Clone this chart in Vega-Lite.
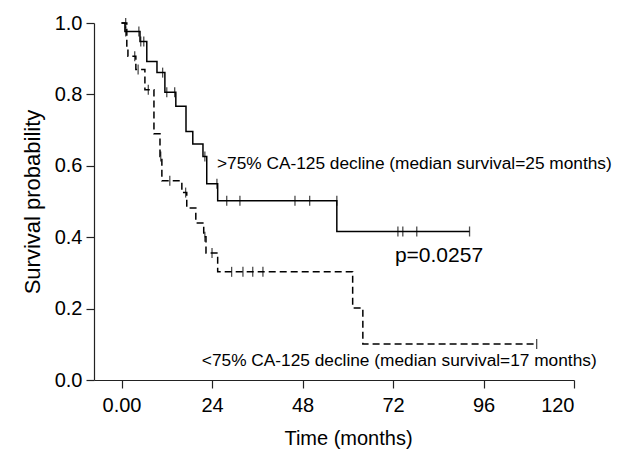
{
  "$schema": "https://vega.github.io/schema/vega-lite/v6.json",
  "width": 480,
  "height": 357,
  "autosize": {"type": "none"},
  "padding": {"left": 94, "top": 23, "right": 48, "bottom": 78},
  "background": "white",
  "config": {
    "view": {"stroke": null},
    "font": "Liberation Sans",
    "axis": {
      "grid": false,
      "domainColor": "#222222",
      "domainWidth": 1.2,
      "tickColor": "#222222",
      "tickWidth": 1.2,
      "tickSize": 8,
      "labelFont": "Liberation Sans",
      "labelFontSize": 20,
      "labelColor": "black",
      "titleFont": "Liberation Sans",
      "titleFontSize": 20,
      "titleFontWeight": "normal",
      "titleColor": "black"
    }
  },
  "datasets": {
    "curves": [
      {"group": ">75%", "t": 0, "s": 1.0},
      {"group": ">75%", "t": 0.9, "s": 0.976},
      {"group": ">75%", "t": 4.9, "s": 0.948},
      {"group": ">75%", "t": 6.7, "s": 0.892},
      {"group": ">75%", "t": 9.4, "s": 0.861},
      {"group": ">75%", "t": 11.5, "s": 0.806},
      {"group": ">75%", "t": 14.4, "s": 0.767},
      {"group": ">75%", "t": 17.1, "s": 0.696},
      {"group": ">75%", "t": 18.9, "s": 0.661},
      {"group": ">75%", "t": 21.6, "s": 0.626},
      {"group": ">75%", "t": 22.6, "s": 0.55},
      {"group": ">75%", "t": 25.5, "s": 0.502},
      {"group": ">75%", "t": 57.1, "s": 0.416},
      {"group": ">75%", "t": 92.3, "s": 0.416},
      {"group": "<75%", "t": 0, "s": 1.0},
      {"group": "<75%", "t": 1.4, "s": 0.93},
      {"group": "<75%", "t": 1.7, "s": 0.907},
      {"group": "<75%", "t": 3.8, "s": 0.87},
      {"group": "<75%", "t": 6.2, "s": 0.813},
      {"group": "<75%", "t": 8.6, "s": 0.69},
      {"group": "<75%", "t": 10.2, "s": 0.626},
      {"group": "<75%", "t": 10.7, "s": 0.558},
      {"group": "<75%", "t": 16.0, "s": 0.525},
      {"group": "<75%", "t": 17.3, "s": 0.482},
      {"group": "<75%", "t": 19.7, "s": 0.44},
      {"group": "<75%", "t": 21.8, "s": 0.401},
      {"group": "<75%", "t": 22.4, "s": 0.356},
      {"group": "<75%", "t": 25.5, "s": 0.303},
      {"group": "<75%", "t": 61.3, "s": 0.202},
      {"group": "<75%", "t": 64.0, "s": 0.101},
      {"group": "<75%", "t": 110.1, "s": 0.101}
    ],
    "censored": [
      {"group": ">75%", "t": 1.1, "s": 0.976},
      {"group": ">75%", "t": 4.6, "s": 0.976},
      {"group": ">75%", "t": 5.1, "s": 0.948},
      {"group": ">75%", "t": 5.9, "s": 0.948},
      {"group": ">75%", "t": 10.9, "s": 0.861},
      {"group": ">75%", "t": 12.0, "s": 0.806},
      {"group": ">75%", "t": 14.1, "s": 0.806},
      {"group": ">75%", "t": 22.1, "s": 0.626},
      {"group": ">75%", "t": 25.3, "s": 0.55},
      {"group": ">75%", "t": 27.9, "s": 0.502},
      {"group": ">75%", "t": 31.4, "s": 0.502},
      {"group": ">75%", "t": 46.0, "s": 0.502},
      {"group": ">75%", "t": 49.9, "s": 0.502},
      {"group": ">75%", "t": 57.1, "s": 0.502},
      {"group": ">75%", "t": 73.3, "s": 0.416},
      {"group": ">75%", "t": 74.6, "s": 0.416},
      {"group": ">75%", "t": 78.3, "s": 0.416},
      {"group": ">75%", "t": 92.3, "s": 0.416},
      {"group": "<75%", "t": 1.1, "s": 1.0},
      {"group": "<75%", "t": 3.5, "s": 0.907},
      {"group": "<75%", "t": 4.4, "s": 0.87},
      {"group": "<75%", "t": 7.1, "s": 0.813},
      {"group": "<75%", "t": 10.4, "s": 0.626},
      {"group": "<75%", "t": 12.8, "s": 0.558},
      {"group": "<75%", "t": 17.0, "s": 0.525},
      {"group": "<75%", "t": 22.1, "s": 0.401},
      {"group": "<75%", "t": 24.0, "s": 0.356},
      {"group": "<75%", "t": 29.2, "s": 0.303},
      {"group": "<75%", "t": 32.2, "s": 0.303},
      {"group": "<75%", "t": 34.8, "s": 0.303},
      {"group": "<75%", "t": 37.5, "s": 0.303},
      {"group": "<75%", "t": 110.1, "s": 0.101}
    ],
    "labels": [
      {"t": 25.3, "s": 0.605, "label": ">75% CA-125 decline (median survival=25 months)"},
      {"t": 21.3, "s": 0.054, "label": "<75% CA-125 decline (median survival=17 months)"}
    ],
    "pvalue": [
      {"t": 72.5, "s": 0.348, "label": "p=0.0257"}
    ]
  },
  "encoding": {
    "x": {
      "field": "t", "type": "quantitative",
      "scale": {"domain": [-7.3, 120], "nice": false, "zero": false},
      "axis": {
        "values": [0, 24, 48, 72, 96, 120],
        "labelExpr": "datum.value == 0 ? '0.00' : datum.label",
        "labelPadding": 7,
        "titlePadding": 13,
        "titleX": 254,
        "titleAlign": "center",
        "title": "Time (months)"
      }
    },
    "y": {
      "field": "s", "type": "quantitative",
      "scale": {"domain": [0, 1], "nice": false},
      "axis": {
        "values": [0, 0.2, 0.4, 0.6, 0.8, 1.0],
        "format": ".1f",
        "labelPadding": 4,
        "titlePadding": 10,
        "titleFontSize": 22,
        "title": "Survival probability"
      }
    }
  },
  "layer": [
    {
      "data": {"name": "curves"},
      "mark": {"type": "line", "interpolate": "step-after", "strokeWidth": 1.5, "color": "black"},
      "encoding": {
        "detail": {"field": "group"},
        "strokeDash": {
          "field": "group", "type": "nominal",
          "scale": {"domain": [">75%", "<75%"], "range": [[1, 0], [7, 4]]},
          "legend": null
        }
      }
    },
    {
      "data": {"name": "censored"},
      "mark": {"type": "tick", "orient": "vertical", "size": 10, "thickness": 1.3, "color": "black"}
    },
    {
      "data": {"name": "labels"},
      "mark": {"type": "text", "align": "left", "baseline": "middle", "fontSize": 17.3, "font": "Liberation Sans", "color": "black"},
      "encoding": {"text": {"field": "label"}}
    },
    {
      "data": {"name": "pvalue"},
      "mark": {"type": "text", "align": "left", "baseline": "middle", "fontSize": 21, "font": "Liberation Sans", "color": "black"},
      "encoding": {"text": {"field": "label"}}
    }
  ]
}
